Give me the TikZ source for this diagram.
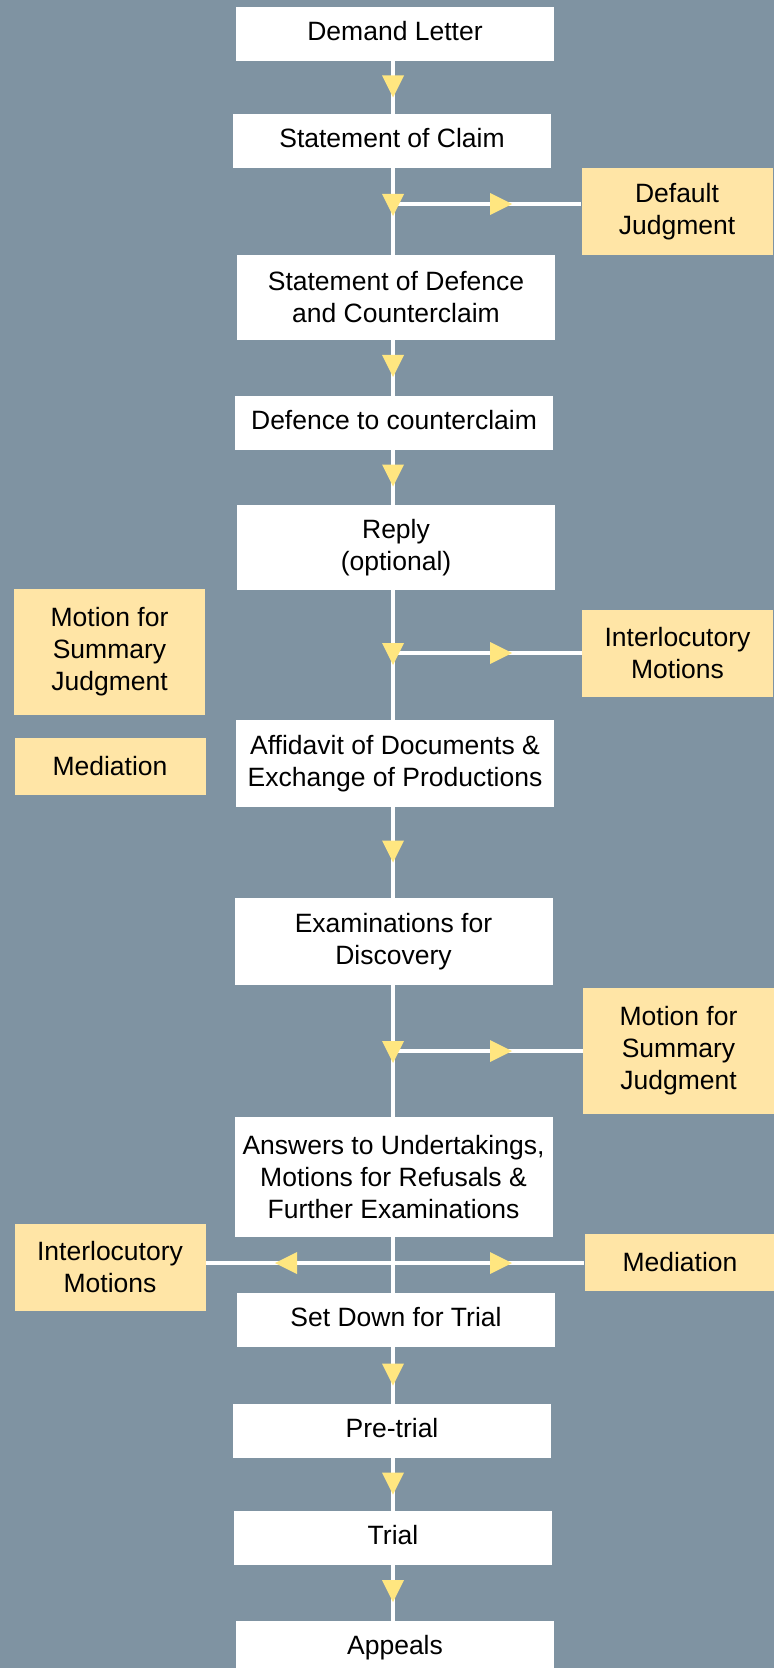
\documentclass[tikz,border=0pt]{standalone}
\usepackage{fontspec}
\setmainfont{Liberation Sans}
\usetikzlibrary{calc}
\definecolor{bgslate}{RGB}{127,147,162}
\definecolor{boxyel}{RGB}{255,229,166}
\definecolor{triyel}{RGB}{255,230,128}
\begin{document}
\begin{tikzpicture}[x=0.5pt,y=-0.5pt,
  every node/.style={font=\fontsize{13.25pt}{16pt}\selectfont, align=center, inner sep=0pt, text=black},
  mainbox/.style={fill=white, minimum width=159pt, minimum height=27pt},
  oneline/.style={text height=11pt, text depth=4.4pt},
  sidebox/.style={fill=boxyel, minimum width=95.5pt, minimum height=43.5pt},
  spine/.style={draw=white, line width=2.3pt},
  downtri/.pic={\fill[triyel] (-5.5pt,5.5pt) -- (5.5pt,5.5pt) -- (0pt,-5.5pt) -- cycle;},
  righttri/.pic={\fill[triyel] (-5.5pt,5.5pt) -- (-5.5pt,-5.5pt) -- (5.5pt,0pt) -- cycle;},
  lefttri/.pic={\fill[triyel] (5.5pt,5.5pt) -- (5.5pt,-5.5pt) -- (-5.5pt,0pt) -- cycle;}
]
\path[use as bounding box] (0,0) rectangle (774,1668);
\clip (0,0) rectangle (774,1668);
\fill[bgslate] (0,0) rectangle (774,1668);

% main column
\node[mainbox, oneline] (demand) at (395,34) {Demand Letter};
\node[mainbox, oneline] (claim) at (392,141) {Statement of Claim};
\node[mainbox, minimum height=42.5pt] (defence) at (396,297.5) {Statement of Defence\\and Counterclaim};
\node[mainbox, oneline] (defcc) at (394,423) {Defence to counterclaim};
\node[mainbox, minimum height=42.5pt] (reply) at (396,547.5) {Reply\\(optional)};
\node[mainbox, minimum height=43.5pt] (affid) at (395,763.5) {Affidavit of Documents \&\\Exchange of Productions};
\node[mainbox, minimum height=43.5pt] (exam) at (393.5,941.5) {Examinations for\\Discovery};
\node[mainbox, minimum height=60pt] (answers) at (393.5,1177) {Answers to Undertakings,\\Motions for Refusals \&\\Further Examinations};
\node[mainbox, oneline] (setdown) at (396,1320) {Set Down for Trial};
\node[mainbox, oneline] (pretrial) at (392,1431) {Pre-trial};
\node[mainbox, oneline] (trial) at (393,1538) {Trial};
\node[mainbox, oneline] (appeals) at (395,1648) {Appeals};

% side boxes
\node[sidebox] (default) at (677,211.5) {Default\\Judgment};
\node[sidebox, minimum height=63pt] (msjA) at (109.5,652) {Motion for\\Summary\\Judgment};
\node[sidebox] (intA) at (677.5,653.5) {Interlocutory\\Motions};
\node[sidebox, minimum height=28.5pt] (medA) at (110,766) {Mediation};
\node[sidebox, minimum height=63pt] (msjB) at (678.5,1051) {Motion for\\Summary\\Judgment};
\node[sidebox] (intB) at (110,1267.5) {Interlocutory\\Motions};
\node[sidebox, minimum height=28.5pt] (medB) at (680,1262) {Mediation};

% spine and junctions
\coordinate (sp) at (393,0);
\coordinate (j1) at (393,204);
\coordinate (j2) at (393,653);
\coordinate (j3) at (393,1051);
\coordinate (j4) at (393,1263);

\draw[spine] (demand.south -| sp) -- (claim.north -| sp);
\draw[spine] (claim.south -| sp) -- (j1) -- (defence.north -| sp);
\draw[spine] (defence.south -| sp) -- (defcc.north -| sp);
\draw[spine] (defcc.south -| sp) -- (reply.north -| sp);
\draw[spine] (reply.south -| sp) -- (j2) -- (affid.north -| sp);
\draw[spine] (affid.south -| sp) -- (exam.north -| sp);
\draw[spine] (exam.south -| sp) -- (j3) -- (answers.north -| sp);
\draw[spine] (answers.south -| sp) -- (j4) -- (setdown.north -| sp);
\draw[spine] (setdown.south -| sp) -- (pretrial.north -| sp);
\draw[spine] (pretrial.south -| sp) -- (trial.north -| sp);
\draw[spine] (trial.south -| sp) -- (appeals.north -| sp);

\draw[spine] (j1) -- (j1 -| default.west);
\draw[spine] (j2) -- (j2 -| intA.west);
\draw[spine] (j3) -- (j3 -| msjB.west);
\draw[spine] (j4 -| intB.east) -- (j4 -| medB.west);

% arrowheads
\pic at ($(demand.south -| sp)!0.5!(claim.north -| sp)+(0,-1)$) {downtri};
\pic at ($(defence.south -| sp)!0.5!(defcc.north -| sp)+(0,-2)$) {downtri};
\pic at ($(defcc.south -| sp)!0.5!(reply.north -| sp)+(0,-2)$) {downtri};
\pic at ($(affid.south -| sp)!0.5!(exam.north -| sp)+(0,-1)$) {downtri};
\pic at ($(setdown.south -| sp)!0.5!(pretrial.north -| sp)+(0,-1)$) {downtri};
\pic at ($(pretrial.south -| sp)!0.5!(trial.north -| sp)+(0,-1)$) {downtri};
\pic at ($(trial.south -| sp)!0.5!(appeals.north -| sp)+(0,-2)$) {downtri};

\pic at ($(j1)+(0,1)$) {downtri};
\pic at ($(j2)+(0,1)$) {downtri};
\pic at ($(j3)+(0,1)$) {downtri};

\pic at ($(j1)+(108,0)$) {righttri};
\pic at ($(j2)+(108,0)$) {righttri};
\pic at ($(j3)+(108,0)$) {righttri};
\pic at ($(j4)+(108,0)$) {righttri};
\pic at ($(j4)+(-107,0)$) {lefttri};
\end{tikzpicture}
\end{document}
